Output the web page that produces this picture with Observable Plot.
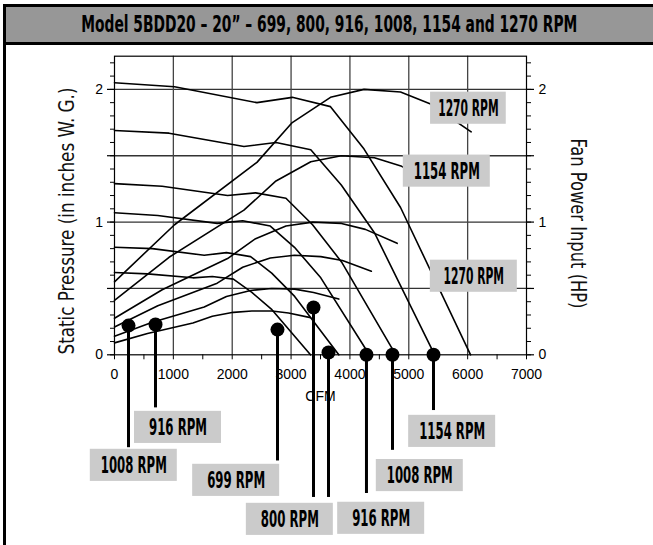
<!DOCTYPE html>
<html><head><meta charset="utf-8">
<script src="https://cdn.jsdelivr.net/npm/d3@7"></script>
<script src="https://cdn.jsdelivr.net/npm/@observablehq/plot@0.6"></script>
<style>
html,body{margin:0;padding:0;background:#fff;}
#wrap{position:absolute;left:3px;top:4px;width:650px;height:541px;border-left:3px solid #000;border-top:3px solid #000;box-sizing:border-box;overflow:hidden;}
#title{height:38px;box-sizing:border-box;background:#979797;border-bottom:3px solid #000;display:flex;align-items:center;justify-content:center;overflow:hidden;}
#title span{font-family:"Liberation Sans Narrow","DejaVu Sans Condensed","Liberation Sans",sans-serif;font-weight:bold;font-size:23px;line-height:23px;display:inline-block;white-space:nowrap;transform-origin:center;color:#000;}
#chart svg{display:block;}
</style></head>
<body>
<div id="wrap">
  <div id="title"><span id="titleText">Model 5BDD20 – 20” – 699, 800, 916, 1008, 1154 and 1270 RPM</span></div>
  <div id="chart"></div>
</div>
<script>
// ---- data: [CFM, static pressure (in. W.G.)] and [CFM, fan power (HP)] ----
const rpms = [699, 800, 916, 1008, 1154, 1270];
const sp699  = [[0,0.62],[561,0.61],[1332,0.58],[1662,0.59],[2020,0.57],[2334,0.47],[2675,0.34],[3330,0]];
const hp699  = [[0,0.09],[561,0.16],[1332,0.24],[1662,0.29],[2020,0.32],[2334,0.33],[2675,0.33],[2956,0.315],[3330,0.28]];
const sp800  = [[0,0.81],[643,0.80],[1524,0.75],[1902,0.77],[2312,0.74],[2671,0.615],[3061,0.44],[3811,0]];
const hp800  = [[0,0.14],[643,0.245],[1524,0.36],[1902,0.44],[2312,0.485],[2671,0.50],[3061,0.495],[3383,0.47],[3811,0.42]];
const sp916  = [[0,1.07],[736,1.05],[1745,0.99],[2178,1.01],[2647,0.97],[3058,0.81],[3505,0.58],[4330,0]];
const hp916  = [[0,0.21],[736,0.37],[1745,0.54],[2178,0.66],[2647,0.73],[3058,0.75],[3505,0.74],[3873,0.71],[4364,0.63]];
const sp1008 = [[0,1.29],[810,1.27],[1921,1.20],[2397,1.22],[2913,1.18],[3365,0.98],[3857,0.70],[4780,0]];
const hp1008 = [[0,0.275],[810,0.49],[1921,0.725],[2397,0.875],[2913,0.97],[3365,1.0],[3857,0.99],[4262,0.945],[4802,0.84]];
const sp1154 = [[0,1.69],[927,1.67],[2199,1.57],[2744,1.60],[3335,1.545],[3853,1.28],[4416,0.92],[5440,0]];
const hp1154 = [[0,0.41],[927,0.735],[2199,1.09],[2744,1.31],[3335,1.455],[3853,1.50],[4416,1.485],[4880,1.42],[5400,1.29]];
const sp1270 = [[0,2.05],[1020,2.02],[2420,1.90],[3020,1.94],[3670,1.87],[4240,1.55],[4860,1.11],[6050,0]];
const hp1270 = [[0,0.55],[1020,0.98],[2420,1.45],[3020,1.75],[3670,1.94],[4240,2.00],[4860,1.98],[5370,1.89],[6060,1.68]];

// ticks
const xTickLabels = [0,1000,2000,3000,4000,5000,6000,7000];
const xGrid = [1000,2000,3000,4000,5000,6000];
const xMinorTicks = [0,500,1000,1500,2000,2500,3000,3500,4000,4500,5000,5500,6000,6500,7000];
const yTickLabels = [0,1,2];
const yGrid = [0.5,1,1.5,2];
const yMinorTicks = d3.range(0,23).map(i => i/10);
const yMajorTicks = [0,0.5,1,1.5,2];

// annotations (CFM, value)
const labelText  = ["1270 RPM","1154 RPM","1270 RPM","916 RPM","1008 RPM","699 RPM","800 RPM","916 RPM","1008 RPM","1154 RPM"];
const labelCfm   = [6013, 5646, 6105, 1079, 328, 2067, 2979, 4531, 5187, 5737];
const labelValue = [1.858, 1.384, 0.592, -0.547, -0.833, -0.946, -1.240, -1.232, -0.910, -0.577];
const stemCfm    = [238, 697, 2769, 3381, 3636, 4281, 4723, 5420];
const stemTop    = [0.22, 0.228, 0.19, 0.356, 0.017, 0, 0, 0];
const stemBottom = [-0.70, -0.40, -0.80, -1.075, -1.075, -1.045, -0.72, -0.42];

const spSeries = [sp699, sp800, sp916, sp1008, sp1154, sp1270];
const hpSeries = [hp699, hp800, hp916, hp1008, hp1154, hp1270];
const curves = [];
rpms.forEach((r, i) => {
  spSeries[i].forEach(([x, y]) => curves.push({key: "sp" + r, x, y}));
  hpSeries[i].forEach(([x, y]) => curves.push({key: "hp" + r, x, y}));
});
const boxes = labelText.map((t, i) => ({t, x: labelCfm[i], y: labelValue[i], hw: i === 0 ? 643 : 739}));
const stems = stemCfm.map((x, i) => ({x, top: stemTop[i], bottom: stemBottom[i]}));

const boldFont = "'Liberation Sans Narrow','DejaVu Sans Condensed','Liberation Sans',sans-serif";
const narrowFont = "'Liberation Sans Narrow','DejaVu Sans Condensed',sans-serif";
const noTxt = () => "";

const chart = Plot.plot({
  width: 647, height: 500,
  marginLeft: 108, marginRight: 127, marginTop: 10.7, marginBottom: 190.7,
  x: {domain: [0, 7000], axis: null},
  y: {domain: [0, 2.25], axis: null},
  style: {fontFamily: "'Liberation Sans', Arial, sans-serif", background: "#fff", overflow: "visible"},
  marks: [
    Plot.ruleY(yGrid, {stroke: "#333", strokeWidth: 1.3}),
    Plot.ruleX(xGrid, {stroke: "#444", strokeWidth: 1.3}),
    Plot.frame({stroke: "#000", strokeWidth: 1.2}),
    Plot.axisY(yMinorTicks, {anchor: "left", tickSize: 4, tickFormat: noTxt, label: null, strokeWidth: 1}),
    Plot.axisY(yMajorTicks, {anchor: "left", tickSize: 7, tickFormat: noTxt, label: null, strokeWidth: 1.2}),
    Plot.axisY(yMinorTicks, {anchor: "right", tickSize: 4, tickFormat: noTxt, label: null, strokeWidth: 1}),
    Plot.axisY(yMajorTicks, {anchor: "right", tickSize: 7, tickFormat: noTxt, label: null, strokeWidth: 1.2}),
    Plot.axisX(xMinorTicks, {anchor: "bottom", tickSize: 5, tickFormat: noTxt, label: null, strokeWidth: 1}),
    Plot.line(curves, {x: "x", y: "y", z: "key", stroke: "#000", strokeWidth: 1.6}),
    Plot.text(xTickLabels, {x: d => d, y: 0, dy: 20, text: d => String(d), fontSize: 14, lineAnchor: "middle", fill: "#000"}),
    Plot.text(yTickLabels, {x: 0, y: d => d, dx: -11.5, text: d => String(d), textAnchor: "end", fontSize: 14, lineAnchor: "middle", fill: "#000"}),
    Plot.text(yTickLabels, {x: 7000, y: d => d, dx: 12, text: d => String(d), textAnchor: "start", fontSize: 14, lineAnchor: "middle", fill: "#000"}),
    Plot.text(["CFM"], {frameAnchor: "bottom", dy: 42, fontSize: 14, lineAnchor: "middle", fill: "#000"}),
    Plot.text(["Static Pressure (in inches W. G.)"], {frameAnchor: "left", dx: -47.5, dy: 15.5, rotate: -90, fontSize: 22, lineAnchor: "middle", fontFamily: narrowFont, fill: "#111"}),
    Plot.text(["Fan Power Input (HP)"], {frameAnchor: "right", dx: 52, dy: 18, rotate: 90, fontSize: 22, lineAnchor: "middle", fontFamily: narrowFont, fill: "#111"}),
    Plot.rect(boxes, {x1: d => d.x - d.hw, x2: d => d.x + d.hw, y1: d => d.y - 0.121, y2: d => d.y + 0.121, fill: "#cbcbcb"}),
    Plot.text(boxes, {x: "x", y: "y", text: "t", fontSize: 23, fontWeight: "bold", fontFamily: boldFont, lineAnchor: "middle", fill: "#000"}),
    Plot.ruleX(stems, {x: "x", y1: "top", y2: "bottom", stroke: "#000", strokeWidth: 3}),
    Plot.dot(stems, {x: "x", y: "top", r: 7, fill: "#000", stroke: "none"})
  ]
});
document.getElementById("chart").appendChild(chart);

// condense texts to the original widths (anchor at start, shifted by half length, so centering holds)
const lengths = {"1270 RPM": 60.5, "1154 RPM": 66, "1008 RPM": 66, "916 RPM": 58, "699 RPM": 58, "800 RPM": 58,
  "Static Pressure (in inches W. G.)": 267, "Fan Power Input (HP)": 170};
chart.querySelectorAll("text").forEach(t => {
  const L = lengths[t.textContent];
  if (L) {
    const x0 = +(t.getAttribute("x") || 0);
    t.setAttribute("text-anchor", "start");
    t.setAttribute("x", x0 - L / 2);
    t.setAttribute("textLength", L);
    t.setAttribute("lengthAdjust", "spacingAndGlyphs");
  }
});
const ts = document.getElementById("titleText");
const w = ts.getBoundingClientRect().width;
ts.style.transform = `scaleX(${496 / w})`;
</script>
</body></html>
